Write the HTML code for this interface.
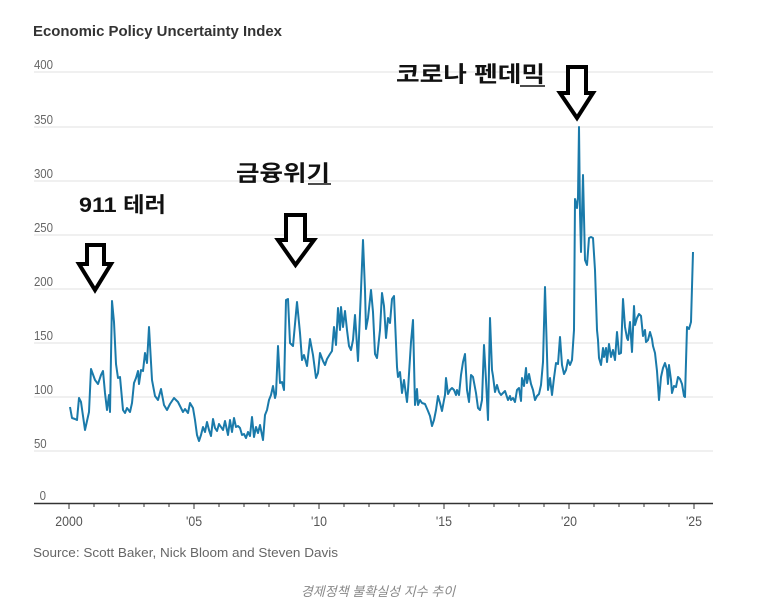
<!DOCTYPE html>
<html><head><meta charset="utf-8"><style>
body{margin:0;background:#fff;width:772px;height:613px;overflow:hidden}
svg{display:block}
</style></head><body>
<svg width="772" height="613" viewBox="0 0 772 613" font-family="'Liberation Sans','Noto Sans CJK KR',sans-serif">
<text x="33" y="36" font-size="15" font-weight="bold" fill="#333" textLength="249" lengthAdjust="spacingAndGlyphs">Economic Policy Uncertainty Index</text>
<g stroke="#e2e2e2" stroke-width="1">
<line x1="34" x2="713" y1="72" y2="72"/><line x1="34" x2="713" y1="127" y2="127"/>
<line x1="34" x2="713" y1="181" y2="181"/><line x1="34" x2="713" y1="235" y2="235"/>
<line x1="34" x2="713" y1="289" y2="289"/><line x1="34" x2="713" y1="343" y2="343"/>
<line x1="34" x2="713" y1="397" y2="397"/><line x1="34" x2="713" y1="451" y2="451"/>
</g>
<g font-size="13" fill="#666" transform="scale(0.88,1)">
<text x="38.6" y="69">400</text><text x="38.6" y="124">350</text><text x="38.6" y="178">300</text>
<text x="38.6" y="232">250</text><text x="38.6" y="286">200</text><text x="38.6" y="340">150</text>
<text x="38.6" y="394">100</text><text x="38.6" y="448">50</text><text x="45" y="500">0</text>
</g>
<line x1="34" x2="713" y1="503.5" y2="503.5" stroke="#333" stroke-width="1.5"/>
<g stroke="#333" stroke-width="1">
<path d="M69 504v5M94 504v3M119 504v3M144 504v3M169 504v3M194 504v5M219 504v3M244 504v3M269 504v3M294 504v3M319 504v5M344 504v3M369 504v3M394 504v3M419 504v3M444 504v5M469 504v3M494 504v3M519 504v3M544 504v3M569 504v5M594 504v3M619 504v3M644 504v3M669 504v3M694 504v5"/>
</g>
<g font-size="14" fill="#555" transform="scale(0.88,1)" text-anchor="middle">
<text x="78.4" y="526">2000</text><text x="220.5" y="526">'05</text><text x="362.5" y="526">'10</text>
<text x="504.5" y="526">'15</text><text x="646.6" y="526">'20</text><text x="788.6" y="526">'25</text>
</g>
<text x="33" y="557" font-size="13" fill="#666" textLength="305" lengthAdjust="spacingAndGlyphs">Source: Scott Baker, Nick Bloom and Steven Davis</text>
<text x="378" y="596" font-size="13" fill="#888" font-style="italic" text-anchor="middle">경제정책 불확실성 지수 추이</text>
<polyline fill="none" stroke="#1a7aaa" stroke-width="2" stroke-linejoin="round" points="70,407 72,418 75,419 77,420 79,398 81,402 85,430 89,412 91,369 95,380 98,384 101,375 103,371 105,393 107,410 109,395 110,412 112,301 114,322 116,364 118,378 120,377 123,410 125,413 127,408 130,412 132,403 134,383 136,378 138,371 139,384 141,370 143,371 145,353 147,363 149,327 152,380 155,396 158,400 161,389 164,405 167,410 170,404 174,398 178,402 181,408 183,412 185,409 188,413 190,403 193,408 195,420 197,435 199,441 201,435 203,427 205,432 207,422 209,430 211,436 213,419 215,428 217,431 219,424 221,427 223,430 225,421 228,435 230,420 232,432 234,418 236,427 238,426 240,428 242,435 244,434 246,438 248,432 250,436 252,417 254,437 256,427 258,433 260,425 263,440 265,415 267,410 269,400 271,395 273,386 275,398 276,394 278,346 280,383 282,382 284,390 286,300 288,299 290,343 293,346 297,302 300,333 302,360 304,355 307,366 310,339 313,355 316,378 318,373 320,353 323,361 325,365 327,359 330,354 332,351 334,327 336,345 338,308 340,330 341,307 343,327 345,311 347,330 349,346 351,350 353,340 355,315 358,361 361,290 363,240 365,290 366,329 368,318 371,290 373,312 375,354 377,358 380,330 382,293 384,306 386,338 388,318 390,323 392,299 394,296 397,367 398,377 400,372 402,393 404,380 407,402 408,390 411,342 413,320 415,405 417,389 418,405 420,400 422,403 425,404 428,411 430,416 432,426 434,420 436,410 438,396 440,403 442,411 444,400 445,395 446,378 448,394 450,390 452,388 454,390 456,395 457,390 459,395 461,375 463,362 465,354 467,390 469,402 471,375 473,377 476,393 478,408 480,410 482,400 484,345 486,380 488,420 490,318 492,370 493,376 495,392 497,385 499,392 501,395 503,393 505,391 508,400 510,396 511,400 513,398 515,402 517,390 519,388 521,401 522,378 524,386 526,368 527,383 529,374 531,384 533,390 535,400 537,396 539,394 541,385 543,362 545,287 547,355 548,390 550,378 552,395 554,378 556,363 558,364 560,337 562,365 564,374 566,370 568,360 570,365 572,360 574,330 575,199 577,208 578,197 579,127 580,213 581,252 583,175 585,260 587,265 589,238 591,237 593,238 595,270 597,330 598,340 599,358 601,365 603,348 604,357 606,348 607,362 609,344 611,357 613,350 615,360 617,332 619,354 621,353 623,299 625,327 627,338 628,340 630,322 632,352 634,306 635,325 637,318 639,314 641,316 643,336 645,330 646,342 648,340 650,332 652,339 653,346 655,353 657,371 659,400 661,377 663,368 665,363 667,370 668,384 669,365 671,380 672,393 674,386 676,387 678,377 680,379 682,384 684,396 685,397 687,327 689,329 691,322 693,252"/>
<g fill="#fff" stroke="#000" stroke-width="4" stroke-linejoin="miter">
<path d="M87 245H104V264H111L95 290L79 264H87Z"/>
<path d="M286 215H305V240H314L295.5 265L278 240H286Z"/>
<path d="M568 67H586V93H593L577 118L560 93H568Z"/>
</g>
<g font-weight="bold" fill="#111">
<text x="79" y="212" font-size="21" textLength="87" lengthAdjust="spacingAndGlyphs">911 테러</text>
<text x="236" y="181" font-size="22" textLength="94" lengthAdjust="spacingAndGlyphs">금융위기</text>
<text x="396" y="82" font-size="22" textLength="149" lengthAdjust="spacingAndGlyphs">코로나 펜데믹</text>
</g>
<g stroke="#111" stroke-width="1.5">
<line x1="308" x2="331" y1="184" y2="184"/>
<line x1="520" x2="545" y1="86" y2="86"/>
</g>
</svg>
</body></html>
